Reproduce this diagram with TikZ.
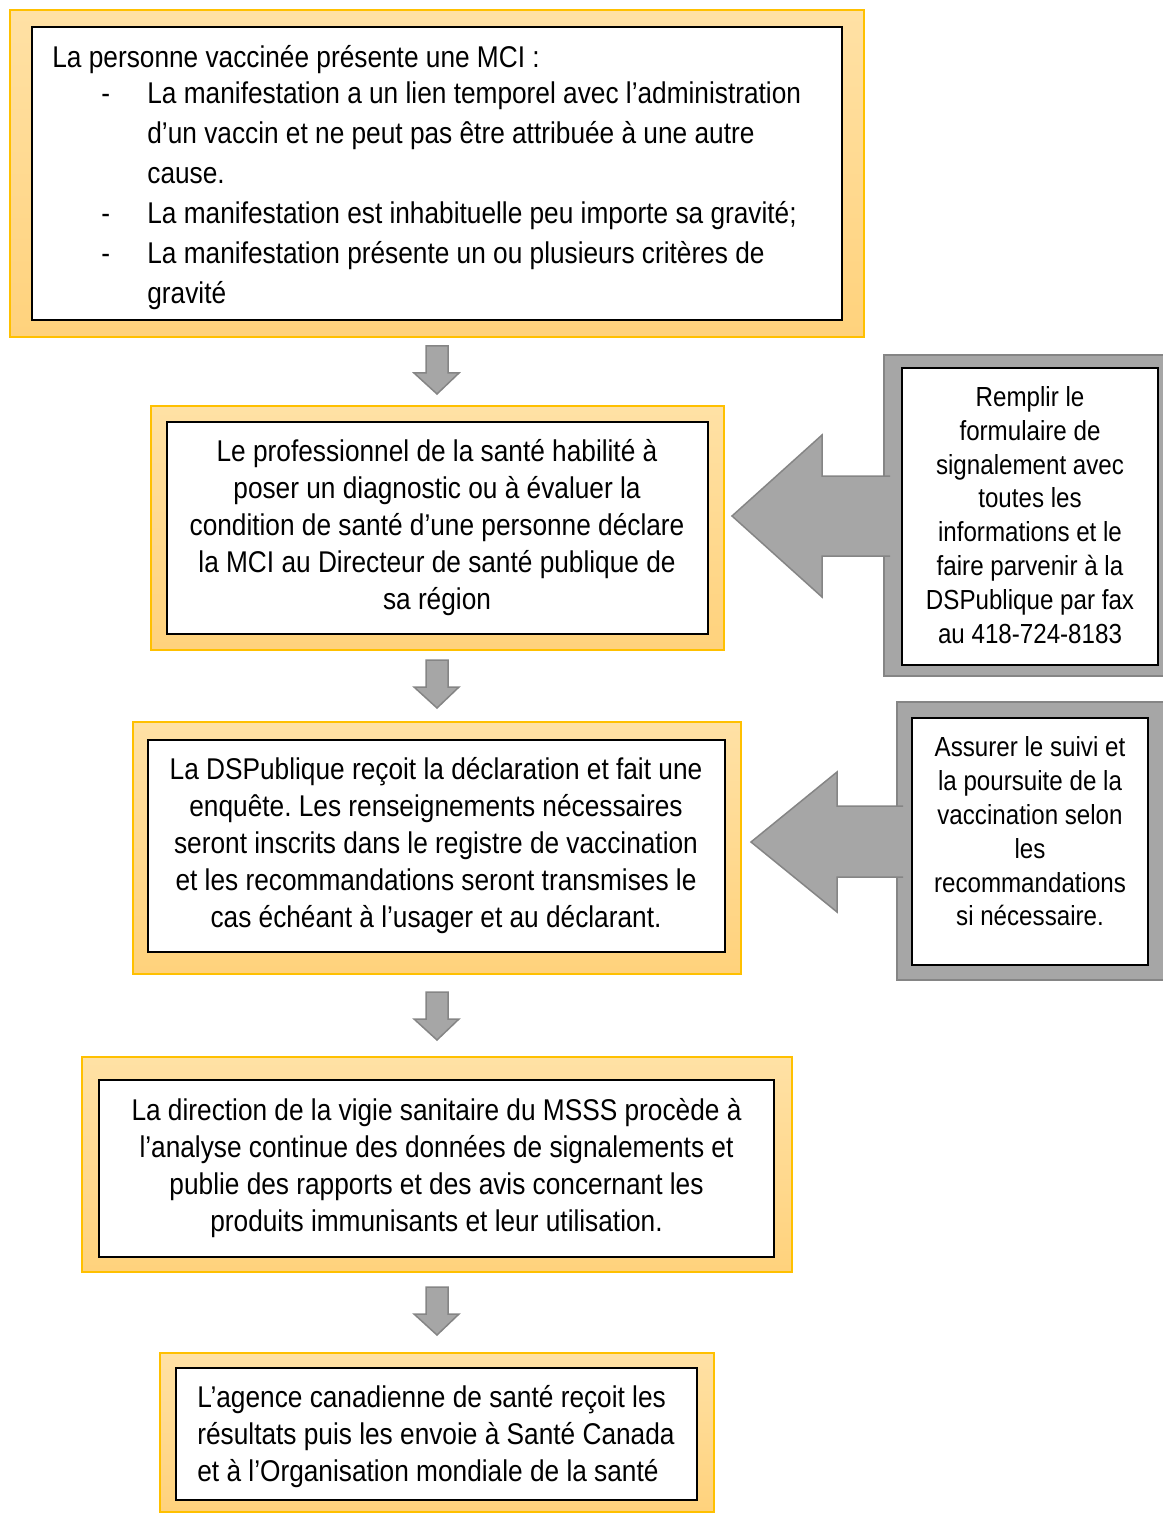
\documentclass[tikz,border=0pt]{standalone}
\usepackage{fontspec}
\setmainfont{Liberation Sans}[FakeStretch=0.875]
\usepackage{xcolor}
\usepackage{tikz}
\usetikzlibrary{positioning}
\frenchspacing

\definecolor{frameGold}{HTML}{FFC000}
\definecolor{frameTop}{HTML}{FFE1A5}
\definecolor{frameBot}{HTML}{FFD27C}
\definecolor{arrowGrey}{HTML}{A6A6A6}
\definecolor{arrowLine}{HTML}{858585}

\tikzset{
  yframe/.style={draw=frameGold, line width=0.75pt, top color=frameTop, bottom color=frameBot},
  wbox/.style={draw=black, line width=1pt, fill=white},
  gframe/.style={draw=arrowLine, line width=0.75pt, fill=arrowGrey},
  downarrow/.style={draw=arrowLine, line width=0.75pt, fill=arrowGrey},
  sidearrow/.style={draw=arrowLine, line width=0.75pt, fill=arrowGrey},
  boxtext/.style={align=center, inner sep=0pt, font=\fontsize{15}{18.5}\selectfont},
  sidetext/.style={align=center, inner sep=0pt, font=\fontsize{13.8}{16.9}\selectfont}
}

\begin{document}
\begin{tikzpicture}[x=0.5pt, y=-0.5pt]
        \useasboundingbox (0,0) rectangle (1162,1513);

        % Step 1
        \draw[yframe] (10,10) rectangle (864,337);
        \draw[wbox] (32,27) rectangle (842,320);
        \node[align=left, inner sep=0pt, anchor=west, font=\fontsize{15}{20}\selectfont] (mci) at (52,178)
          {La personne vaccinée présente une MCI :\\[-2pt]
           \hspace*{24.5pt}\makebox[23pt][l]{-}La manifestation a un lien temporel avec l’administration\\
           \hspace*{47.5pt}d’un vaccin et ne peut pas être attribuée à une autre\\
           \hspace*{47.5pt}cause.\\
           \hspace*{24.5pt}\makebox[23pt][l]{-}La manifestation est inhabituelle peu importe sa gravité;\\
           \hspace*{24.5pt}\makebox[23pt][l]{-}La manifestation présente un ou plusieurs critères de\\
           \hspace*{47.5pt}gravité};

        % Step 2
        \draw[yframe] (151,406) rectangle (724,650);
        \draw[wbox] (167,422) rectangle (708,634);
        \node[boxtext] (declare) at (437,527.5)
          {Le professionnel de la santé habilité à\\
           poser un diagnostic ou à évaluer la\\
           condition de santé d’une personne déclare\\
           la MCI au Directeur de santé publique de\\
           sa région};

        % Step 3
        \draw[yframe] (133,722) rectangle (741,974);
        \draw[wbox] (148,740) rectangle (725,952);
        \node[boxtext] (enquete) at (436,845.5)
          {La DSPublique reçoit la déclaration et fait une\\
           enquête. Les renseignements nécessaires\\
           seront inscrits dans le registre de vaccination\\
           et les recommandations seront transmises le\\
           cas échéant à l’usager et au déclarant.};

        % Step 4
        \draw[yframe] (82,1057) rectangle (792,1272);
        \draw[wbox] (99,1080) rectangle (774,1257);
        \node[boxtext] (vigie) at (436.5,1168)
          {La direction de la vigie sanitaire du MSSS procède à\\
           l’analyse continue des données de signalements et\\
           publie des rapports et des avis concernant les\\
           produits immunisants et leur utilisation.};

        % Step 5
        \draw[yframe] (160,1353) rectangle (714,1512);
        \draw[wbox] (176,1368) rectangle (697,1500);
        \node[boxtext, align=left, anchor=west] (agence) at (197,1437)
          {L’agence canadienne de santé reçoit les\\
           résultats puis les envoie à Santé Canada\\
           et à l’Organisation mondiale de la santé};

        % Down arrows
        \foreach \t in {346,660,992,1287}
          \draw[downarrow] (426,\t) -- (448,\t) -- (448,\t+27) -- (459,\t+27)
            -- (437,\t+48) -- (414,\t+27) -- (426,\t+27) -- cycle;

        % Side note 1
        \draw[gframe] (884,355) rectangle (1168,676);
        \draw[wbox] (902,368) rectangle (1158,665);
        \draw[sidearrow] (890,476) -- (822,476) -- (822,435) -- (732,516)
          -- (822,597) -- (822,556) -- (890,556);
        \node[sidetext] (formulaire) at (1030,515)
          {Remplir le\\
           formulaire de\\
           signalement avec\\
           toutes les\\
           informations et le\\
           faire parvenir à la\\
           DSPublique par fax\\
           au 418-724-8183};

        % Side note 2
        \draw[gframe] (897,702) rectangle (1168,980);
        \draw[wbox] (912,718) rectangle (1148,965);
        \draw[sidearrow] (903,806) -- (837,806) -- (837,772) -- (751,842)
          -- (837,912) -- (837,877) -- (903,877);
        \node[sidetext] (suivi) at (1030,831.5)
          {Assurer le suivi et\\
           la poursuite de la\\
           vaccination selon\\
           les\\
           recommandations\\
           si nécessaire.};
      \end{tikzpicture}
\end{document}
